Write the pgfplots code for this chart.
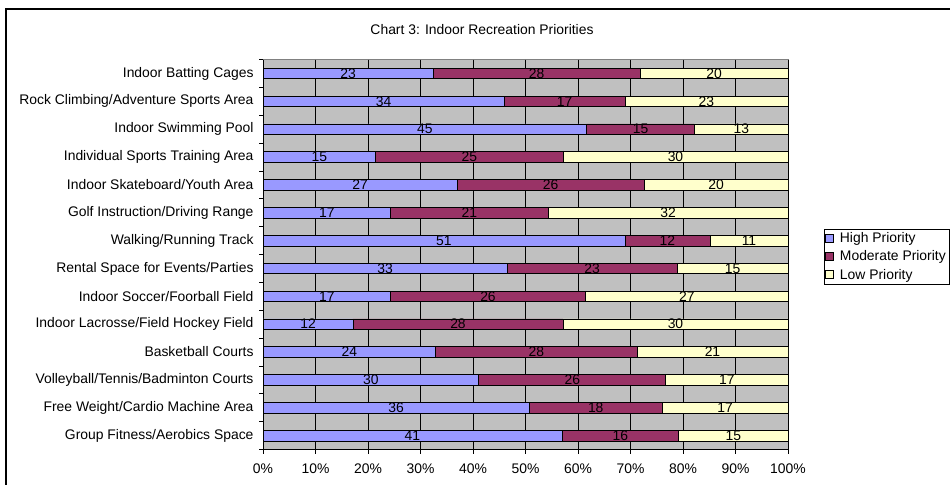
\documentclass[border=0pt]{standalone}
\usepackage{pgfplots}
\pgfplotsset{compat=1.18}
\usepackage{pgfplotstable}
\usepackage{fontspec}
\setmainfont{Liberation Sans}
\definecolor{highc}{HTML}{9999FF}
\definecolor{modc}{HTML}{993366}
\definecolor{lowc}{HTML}{FFFFCC}
\definecolor{bgc}{HTML}{C0C0C0}
\pgfplotstableread{
idx H M L
0 23 28 20
1 34 17 23
2 45 15 13
3 15 25 30
4 27 26 20
5 17 21 32
6 51 12 11
7 33 23 15
8 17 26 27
9 12 28 30
10 24 28 21
11 30 26 17
12 36 18 17
13 41 16 15
}\datatable
\newcommand{\cf}{\fontsize{13.9bp}{16bp}\selectfont}
\begin{document}
\begin{tikzpicture}[x=1bp,y=1bp,font=\cf]
\useasboundingbox (0bp,0bp) rectangle (950bp,485bp);
\draw[line width=1.2bp] (6bp,-10bp) -- (6bp,476bp) -- (980bp,476bp);
\node at (482bp,455bp) {Chart 3: Indoor Recreation Priorities};
\begin{axis}[
  at={(263bp,35.5bp)}, anchor=south west, scale only axis,
  width=525bp, height=390bp,
  xmin=0, xmax=100, ymin=-0.5, ymax=13.5, y dir=reverse,
  xbar stacked, bar width=10.5bp,
  axis x line*=bottom, axis y line*=left,
  axis line style={black, line width=0.8bp},
  axis background/.style={fill=bgc, draw=gray},
  xtick={0,10,...,100},
  xticklabels={0\%,10\%,20\%,30\%,40\%,50\%,60\%,70\%,80\%,90\%,100\%},
  tick align=outside, major tick length=4bp,
  tick style={black, line width=0.8bp},
  xmajorgrids, grid style={black, line width=0.6bp},
  ytick={-0.5,0.5,...,13.5}, y tick label as interval,
  yticklabels={Indoor Batting Cages,Rock Climbing/Adventure Sports Area,Indoor Swimming Pool,Individual Sports Training Area,Indoor Skateboard/Youth Area,Golf Instruction/Driving Range,Walking/Running Track,Rental Space for Events/Parties,Indoor Soccer/Foorball Field,Indoor Lacrosse/Field Hockey Field,Basketball Courts,Volleyball/Tennis/Badminton Courts,Free Weight/Cardio Machine Area,Group Fitness/Aerobics Space},
  yticklabel style={font=\cf, anchor=east, xshift=-2bp},
  xticklabel style={font=\cf, yshift=-7bp},
  legend style={at={(1.068,0.565)}, anchor=north west, draw=black, fill=white,
    font=\cf, inner sep=1.5bp, row sep=2.5bp, cells={anchor=west},
    legend cell align=left},
  legend image code/.code={\draw[#1, draw=black, line width=0.5bp] (0bp,-4bp) rectangle (8bp,4bp); \path (12bp,0bp);},
]
\addplot[fill=highc, draw=black, line width=0.6bp] table[y=idx, x expr={\thisrow{H}/(\thisrow{H}+\thisrow{M}+\thisrow{L})*100}] \datatable;
\addplot[fill=modc, draw=black, line width=0.6bp] table[y=idx, x expr={\thisrow{M}/(\thisrow{H}+\thisrow{M}+\thisrow{L})*100}] \datatable;
\addplot[fill=lowc, draw=black, line width=0.6bp] table[y=idx, x expr={\thisrow{L}/(\thisrow{H}+\thisrow{M}+\thisrow{L})*100}] \datatable;
\legend{High Priority,Moderate Priority\hspace{10bp},Low Priority}
\end{axis}
\begin{axis}[
  at={(263bp,35.5bp)}, anchor=south west, scale only axis,
  width=525bp, height=390bp,
  xmin=0, xmax=100, ymin=-0.5, ymax=13.5, y dir=reverse,
  hide axis, point meta=explicit symbolic,
  nodes near coords, nodes near coords align={anchor=center},
  every node near coord/.style={anchor=center, inner sep=0pt, font=\cf, text=black},
]
\addplot[draw=none, mark=none, nodes near coords] table[y=idx, meta=H, x expr={\thisrow{H}/2/(\thisrow{H}+\thisrow{M}+\thisrow{L})*100}] \datatable;
\addplot[draw=none, mark=none, nodes near coords] table[y=idx, meta=M, x expr={(\thisrow{H}+\thisrow{M}/2)/(\thisrow{H}+\thisrow{M}+\thisrow{L})*100}] \datatable;
\addplot[draw=none, mark=none, nodes near coords] table[y=idx, meta=L, x expr={(\thisrow{H}+\thisrow{M}+\thisrow{L}/2)/(\thisrow{H}+\thisrow{M}+\thisrow{L})*100}] \datatable;
\end{axis}
\end{tikzpicture}
\end{document}
